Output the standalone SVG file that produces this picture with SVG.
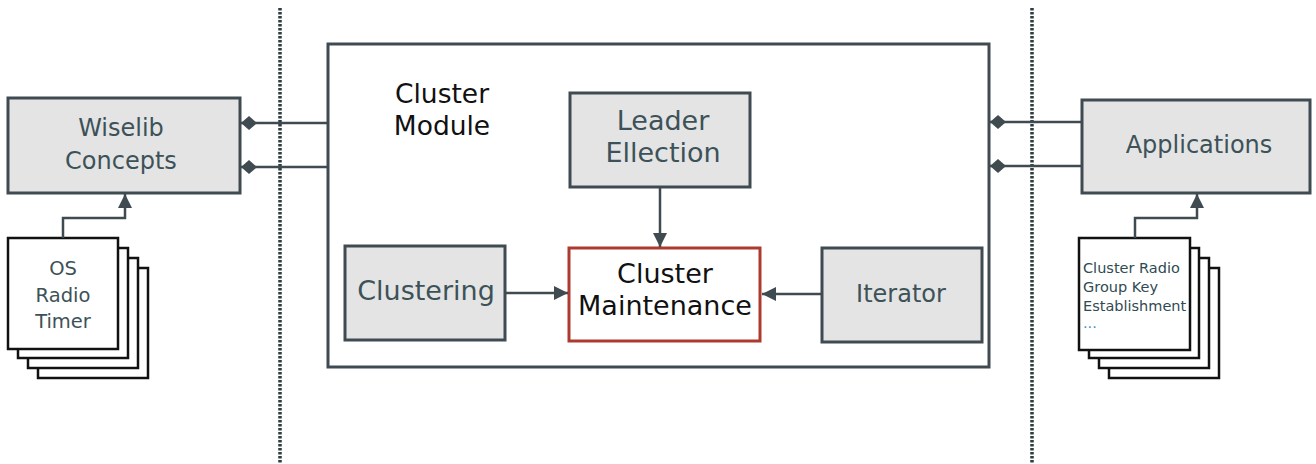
<svg xmlns="http://www.w3.org/2000/svg" width="1316" height="464" viewBox="0 0 1316 464">
<defs>
<style>
.box{fill:#e4e4e4;stroke:#3f4b50;stroke-width:3}
.card{fill:#ffffff;stroke:#111;stroke-width:2.5}
.gt{font-family:"DejaVu Sans",sans-serif;fill:#3d5258;text-anchor:middle}
.bt{font-family:"DejaVu Sans",sans-serif;fill:#111;text-anchor:middle}
.ln{stroke:#3f4b50;stroke-width:2.5;fill:none}
.sep{stroke:#2f3b40;stroke-width:3.5;stroke-dasharray:2.5 1.5;fill:none}
</style>
<marker id="arr" viewBox="0 0 14 14" refX="14" refY="7" markerWidth="14" markerHeight="14" markerUnits="userSpaceOnUse" orient="auto">
<path d="M0,0 L14,7 L0,14 Z" fill="#3f4b50"/>
</marker>
<marker id="dia" viewBox="0 0 16 14" refX="16" refY="7" markerWidth="16" markerHeight="14" markerUnits="userSpaceOnUse" orient="auto">
<path d="M0,7 L8,0 L16,7 L8,14 Z" fill="#3f4b50"/>
</marker>
</defs>
<rect width="1316" height="464" fill="#ffffff"/>
<g id="separators">
<line class="sep" x1="280" y1="8" x2="280" y2="464"/>
<line class="sep" x1="1032" y1="8" x2="1032" y2="464"/>
</g>
<g id="cluster-module">
<rect x="328" y="44" width="661" height="323" fill="none" stroke="#3f4b50" stroke-width="3"/>
<text class="bt" font-size="26.5" x="442" y="103">Cluster</text>
<text class="bt" font-size="26.5" x="442" y="135">Module</text>
</g>
<g id="wiselib">
<rect class="box" x="8" y="98" width="232" height="95"/>
<text class="gt" font-size="24" x="121" y="136">Wiselib</text>
<text class="gt" font-size="24" x="121" y="169">Concepts</text>
</g>
<g id="applications">
<rect class="box" x="1082" y="100" width="228" height="93"/>
<text class="gt" font-size="24" x="1199" y="153">Applications</text>
</g>
<g id="leader-election">
<rect class="box" x="570" y="93" width="180" height="94"/>
<text class="gt" font-size="27" x="663" y="130">Leader</text>
<text class="gt" font-size="27" x="663" y="162">Ellection</text>
</g>
<g id="clustering">
<rect class="box" x="345" y="246" width="160" height="94"/>
<text class="gt" font-size="27" x="426" y="300">Clustering</text>
</g>
<g id="iterator">
<rect class="box" x="822" y="248" width="160" height="94"/>
<text class="gt" font-size="24" x="901" y="302">Iterator</text>
</g>
<g id="cluster-maintenance">
<rect x="569" y="248" width="191" height="93" fill="#ffffff" stroke="#ad3a2e" stroke-width="3"/>
<text class="bt" font-size="27" x="665" y="283">Cluster</text>
<text class="bt" font-size="27" x="665" y="315">Maintenance</text>
</g>
<g id="os-stack">
<rect class="card" x="38" y="268" width="110" height="110"/>
<rect class="card" x="28" y="258" width="110" height="110"/>
<rect class="card" x="18" y="248" width="110" height="110"/>
<rect class="card" x="8" y="238" width="110" height="111"/>
<text class="gt" font-size="19.5" x="63" y="275">OS</text>
<text class="gt" font-size="19.5" x="63" y="302">Radio</text>
<text class="gt" font-size="19.5" x="63" y="328">Timer</text>
</g>
<g id="app-stack">
<rect class="card" x="1109" y="268" width="110" height="110"/>
<rect class="card" x="1099" y="258" width="110" height="110"/>
<rect class="card" x="1089" y="248" width="110" height="110"/>
<rect class="card" x="1079" y="238" width="111" height="112"/>
<g font-family="DejaVu Sans, sans-serif" font-size="14.5" fill="#2f4a52">
<text x="1083" y="273">Cluster Radio</text>
<text x="1083" y="292">Group Key</text>
<text x="1083" y="311">Establishment</text>
<text x="1083" y="328" fill="#4a8fc4">...</text>
</g>
</g>
<g id="connectors">
<line class="ln" x1="328" y1="123" x2="241" y2="123" marker-end="url(#dia)"/>
<line class="ln" x1="328" y1="167" x2="241" y2="167" marker-end="url(#dia)"/>
<line class="ln" x1="1082" y1="122" x2="990" y2="122" marker-end="url(#dia)"/>
<line class="ln" x1="1082" y1="166" x2="990" y2="166" marker-end="url(#dia)"/>
<line class="ln" x1="660" y1="187" x2="660" y2="247" marker-end="url(#arr)"/>
<line class="ln" x1="505" y1="293" x2="568" y2="293" marker-end="url(#arr)"/>
<line class="ln" x1="822" y1="294" x2="762" y2="294" marker-end="url(#arr)"/>
<polyline class="ln" points="63,238 63,218 125,218 125,194" marker-end="url(#arr)"/>
<polyline class="ln" points="1135,238 1135,218 1197,218 1197,194" marker-end="url(#arr)"/>
</g>
</svg>
